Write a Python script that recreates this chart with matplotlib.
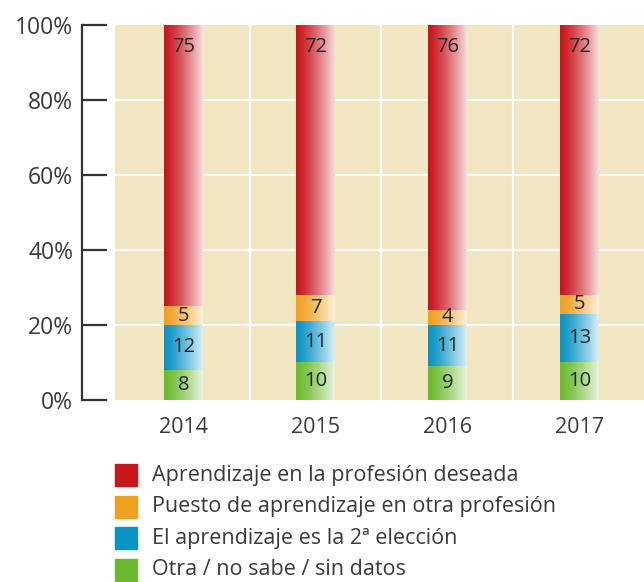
"""
Barras apiladas con degradado: situación del aprendizaje por año.
"""
import numpy as np
import matplotlib.pyplot as plt
from matplotlib.colors import to_rgb
from matplotlib.patches import Rectangle

plt.rcParams['font.family'] = ['Open Sans', 'DejaVu Sans']

# Datos (de abajo hacia arriba en cada barra)
anios = ['2014', '2015', '2016', '2017']
otra = [8, 10, 9, 10]
segunda = [12, 11, 11, 13]
otra_prof = [5, 7, 4, 5]
deseada = [75, 72, 76, 72]
series = [otra, segunda, otra_prof, deseada]

etiquetas = ['Aprendizaje en la profesión deseada',
             'Puesto de aprendizaje en otra profesión',
             'El aprendizaje es la 2ª elección',
             'Otra / no sabe / sin datos']
colores = ['#6cb92f', '#0a94c4', '#efa020', '#c8161d']   # mismo orden que series
colores_leyenda = ['#c8161d', '#efa020', '#0a94c4', '#6cb92f']

fondo = '#f1e6c1'
texto = '#3a3a3a'

fig = plt.figure(figsize=(6.44, 5.82), dpi=100)
ax = fig.add_axes([115 / 644, 1 - 400 / 582, 1 - 115 / 644, 375 / 582])
ax.set_facecolor(fondo)

ancho = 0.29
x = np.arange(len(anios))


def degradado(c, n=64):
    base = np.array(to_rgb(c))
    f = np.linspace(0, 0.88, n)[:, None] ** 1.3
    return (base * (1 - f) + f)[None, :, :]


base = np.zeros(len(anios))
for s, col in zip(series, colores):
    img = degradado(col)
    for i, v in enumerate(s):
        ax.imshow(img, extent=[x[i] - ancho / 2, x[i] + ancho / 2, base[i], base[i] + v],
                  aspect='auto', interpolation='bilinear', zorder=3)
    base += np.array(s)

# Etiquetas de valores
base = np.zeros(len(anios))
for k, s in enumerate(series):
    for i, v in enumerate(s):
        y = base[i] + v / 2 if k < 3 else base[i] + v - 6
        ax.text(x[i], y, str(v), ha='center', va='center', fontsize=14.5,
                color='#26262f', zorder=4)
    base += np.array(s)

# Rejilla blanca
for yv in [20, 40, 60, 80]:
    ax.axhline(yv, color='white', lw=1.6, zorder=1)
for xv in [0.5, 1.5, 2.5]:
    ax.axvline(xv, color='white', lw=1.6, zorder=1)

ax.set_xlim(-0.52, 3.49)
ax.set_ylim(0, 100)
ax.set_xticks(x)
ax.set_xticklabels(anios)
ax.set_yticks(range(0, 101, 20))
ax.set_yticklabels([f'{v}%' for v in range(0, 101, 20)])

for lado in ['top', 'right', 'bottom']:
    ax.spines[lado].set_visible(False)
ax.spines['left'].set_position(('outward', 24))
ax.spines['left'].set_color('#333333')
ax.spines['left'].set_linewidth(1.6)
ax.tick_params(axis='y', direction='in', length=18, width=1.6, color='#333333',
               labelsize=16.5, labelcolor=texto, pad=6)
ax.tick_params(axis='x', length=0, labelsize=15.5, labelcolor=texto, pad=12)

# Leyenda
for j, (lab, col) in enumerate(zip(etiquetas, colores_leyenda)):
    yc = 475 + j * 31.5
    fig.add_artist(Rectangle((115 / 644, 1 - (yc + 11) / 582), 22 / 644, 22 / 582,
                             transform=fig.transFigure, color=col))
    fig.text(152 / 644, 1 - yc / 582, lab, ha='left', va='center',
             fontsize=15.5, color=texto)

fig.savefig('out.png', dpi=100)
